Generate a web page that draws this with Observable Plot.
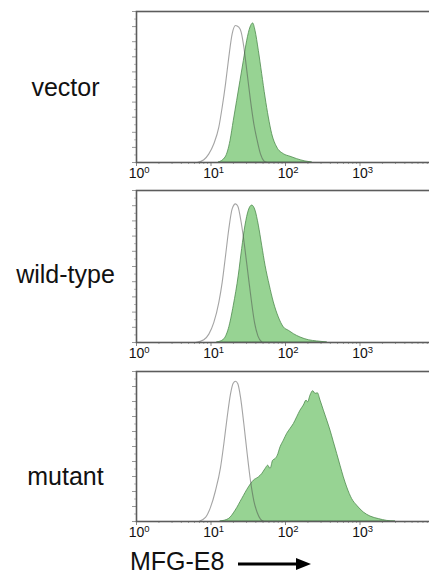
<!DOCTYPE html>
<html>
<head>
<meta charset="utf-8">
<script src="https://cdn.jsdelivr.net/npm/d3@7"></script>
<script src="https://cdn.jsdelivr.net/npm/@observablehq/plot@0.6"></script>
<style>
  html, body { margin: 0; padding: 0; background: #fff; overflow: hidden; }
  #wrap { width: 429px; height: 574px; overflow: hidden; position: relative; font-family: "Liberation Sans", Arial, sans-serif; }
  #wrap svg { display: block; max-width: none !important; }
</style>
</head>
<body>
<div id="wrap"></div>
<script>
// ---- data (log10 fluorescence position, % of max panel height) ----
const rowLabels = ["vector", "wild-type", "mutant"];
const xTicks = [1, 10, 100, 1000];
const tickExponents = ["0", "1", "2", "3"];
const axisLabel = "MFG-E8";

const vectorControlLog = [0.814,0.904,0.971,1.038,1.105,1.150,1.195,1.239,1.284,1.329,1.373,1.405,1.441,1.486,1.530,1.575,1.620,1.664,1.709,1.754];
const vectorControlCount = [0,1.8,5.7,12.4,23.4,36.6,52.1,69.8,85.2,90.7,89.6,86.3,76.4,58.7,41.1,25.6,14.6,5.7,1.1,0];
const vectorStainLog = [1.105,1.195,1.262,1.306,1.351,1.396,1.441,1.486,1.530,1.566,1.597,1.642,1.687,1.732,1.776,1.821,1.889,1.978,2.067,2.157,2.268,2.358];
const vectorStainCount = [0,3.3,14.3,27.6,40.8,54.1,67.3,80.6,89.4,92.1,87.2,73.9,58.5,43,29.8,18.8,9.9,5.5,3.8,2.2,0.7,0];

const wildControlLog = [0.792,0.904,0.971,1.038,1.105,1.150,1.195,1.239,1.284,1.329,1.360,1.405,1.450,1.494,1.539,1.584,1.629,1.687];
const wildControlCount = [0,1.8,5.5,13.2,26.4,39.6,57.1,74.7,87.9,91.2,89.7,79.1,63.7,46.2,28.6,13.2,4.4,0];
const wildStainLog = [1.083,1.172,1.239,1.306,1.373,1.418,1.463,1.508,1.553,1.597,1.642,1.687,1.732,1.789,1.843,1.910,1.978,2.045,2.112,2.201,2.313,2.426,2.560];
const wildStainCount = [0,1.8,8.8,24.2,44,61.5,76.9,86.8,90.1,86.8,76.9,63.7,50.5,37.4,26.4,16.5,9.9,7.7,5.5,3.3,1.5,0.7,0];

const mutantControlLog = [0.837,0.926,0.993,1.060,1.128,1.172,1.217,1.262,1.298,1.329,1.360,1.396,1.441,1.486,1.530,1.575,1.620,1.664,1.709];
const mutantControlCount = [0,2.7,9.4,20.5,36.1,51.7,69.5,85.1,92.2,93.5,91.8,82.9,65,45,27.2,13.8,6,1.6,0];
const mutantStainLog = [1.128,1.239,1.329,1.418,1.508,1.575,1.642,1.687,1.732,1.768,1.799,1.834,1.866,1.897,1.933,1.978,2.022,2.067,2.112,2.157,2.201,2.246,2.282,2.304,2.336,2.372,2.403,2.434,2.470,2.515,2.560,2.604,2.649,2.694,2.738,2.783,2.828,2.895,2.962,3.051,3.141,3.253,3.365,3.477];
const mutantStainCount = [0,1.6,7.1,14.9,22.7,27.2,29.4,31.6,35,37.2,35,40.5,41.6,43.9,49.4,53.9,58.4,61.7,65,69.5,73.9,77.3,80.6,79.5,84,86.9,85.1,85.5,80.6,73.9,67.3,60.6,52.8,45,37.2,29.4,22.7,14.9,10.5,6,3.3,1.6,0.4,0];

// ---- build ----
const toPoints = (logs, counts) => logs.map((l, i) => ({x: Math.pow(10, l), y: counts[i]}));
const panels = [
  {label: rowLabels[0], control: toPoints(vectorControlLog, vectorControlCount), stain: toPoints(vectorStainLog, vectorStainCount)},
  {label: rowLabels[1], control: toPoints(wildControlLog, wildControlCount), stain: toPoints(wildStainLog, wildStainCount)},
  {label: rowLabels[2], control: toPoints(mutantControlLog, mutantControlCount), stain: toPoints(mutantStainLog, mutantStainCount)}
];

// layout (pixels)
const layout = [
  {marginTop: 11, marginBottom: 20, height: 182, labelDy: 1},
  {marginTop: 8, marginBottom: 20, height: 180, labelDy: 8},
  {marginTop: 9, marginBottom: 22, height: 181, labelDy: 30}
];

const minorTicks = [];
for (const d of [1, 10, 100, 1000]) for (let k = 2; k <= 9; k++) minorTicks.push(d * k);
const yTicks = d3.range(0, 101, 10);
const yMinor = d3.range(5, 100, 10);

const wrap = document.getElementById("wrap");
panels.forEach((p, i) => {
  const L = layout[i];
  const chart = Plot.plot({
    width: 436,
    height: L.height,
    marginLeft: 136,
    marginRight: 2,
    marginTop: L.marginTop,
    marginBottom: L.marginBottom,
    style: {fontFamily: '"Liberation Sans", Arial, sans-serif', background: "#fff", overflow: "visible", color: "#111", maxWidth: "none"},
    x: {type: "log", domain: [1, 10000], axis: null},
    y: {domain: [0, 100], nice: false, axis: null},
    marks: [
      Plot.areaY(p.stain, {x: "x", y: "y", fill: "#97d393", stroke: "#4e8a4e", strokeWidth: 0.8, curve: "monotone-x"}),
      Plot.lineY(p.control, {x: "x", y: "y", stroke: "#4a4a4a", strokeOpacity: 0.5, strokeWidth: 1.1, curve: "monotone-x"}),
      Plot.axisY({ticks: yTicks, tickSize: 4, tickFormat: () => "", label: null, stroke: "#9a9a9a"}),
      Plot.axisY({ticks: yMinor, tickSize: 2, tickFormat: () => "", label: null, stroke: "#bbb"}),
      Plot.axisX({ticks: minorTicks, tickSize: 2, tickFormat: () => "", label: null, stroke: "#aaa"}),
      Plot.axisX({ticks: xTicks, tickSize: 4, tickFormat: () => "", label: null, stroke: "#888"}),
      Plot.frame({stroke: "#5c5c5c", strokeWidth: 1.6}),
      Plot.text(xTicks, {x: d => d, text: () => "10", frameAnchor: "bottom", dy: 6, lineAnchor: "top", fontSize: 14, textAnchor: "middle", fill: "#111"}),
      Plot.text(xTicks, {x: d => d, text: (d, j) => tickExponents[j], frameAnchor: "bottom", dx: 10.5, dy: 3.5, lineAnchor: "top", fontSize: 9.5, textAnchor: "middle", fill: "#111"}),
      Plot.text([p.label], {text: d => d, frameAnchor: "left", dx: -71, dy: L.labelDy, fontSize: 25, textAnchor: "middle", fill: "#111"})
    ]
  });
  wrap.appendChild(chart);
});

// caption below the last panel
const ns = "http://www.w3.org/2000/svg";
const cap = document.createElementNS(ns, "svg");
cap.setAttribute("width", 429);
cap.setAttribute("height", 31);
const t = document.createElementNS(ns, "text");
t.setAttribute("x", 130);
t.setAttribute("y", 27);
t.setAttribute("font-size", 25);
t.setAttribute("font-family", '"Liberation Sans", Arial, sans-serif');
t.setAttribute("fill", "#111");
t.textContent = axisLabel;
cap.appendChild(t);
const ln = document.createElementNS(ns, "line");
ln.setAttribute("x1", 238); ln.setAttribute("x2", 298);
ln.setAttribute("y1", 21); ln.setAttribute("y2", 21);
ln.setAttribute("stroke", "#000"); ln.setAttribute("stroke-width", 3);
cap.appendChild(ln);
const head = document.createElementNS(ns, "polygon");
head.setAttribute("points", "296,15 311,21 296,27");
head.setAttribute("fill", "#000");
cap.appendChild(head);
wrap.appendChild(cap);
</script>
</body>
</html>
